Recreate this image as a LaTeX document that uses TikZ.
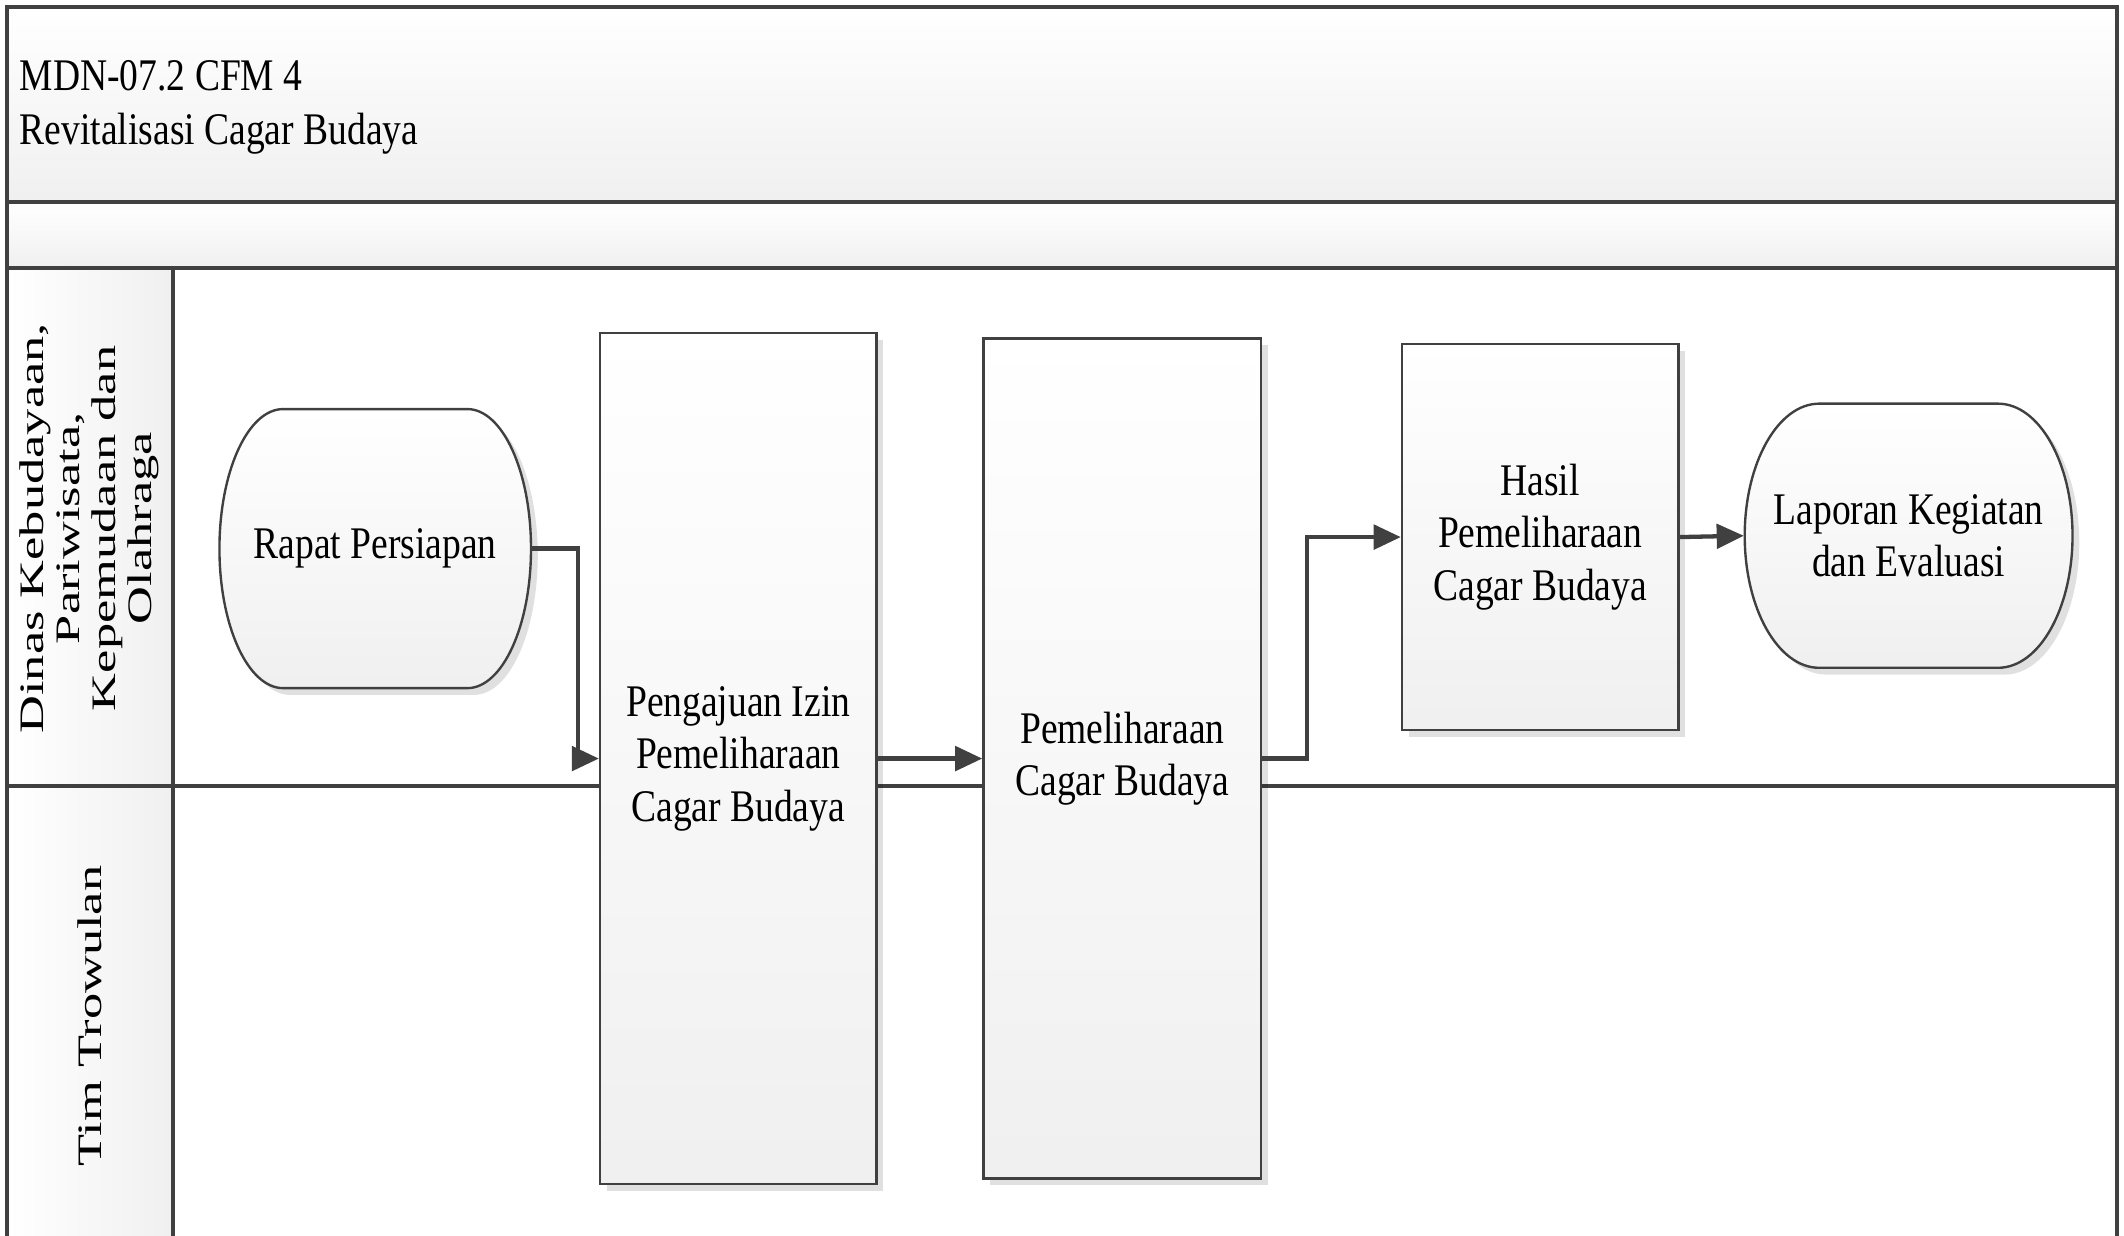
\documentclass[tikz,border=0pt]{standalone}
\usepackage{fontspec}
\setmainfont{Liberation Serif}
\newfontfamily\boxfont[FakeStretch=0.83]{Liberation Serif}
\newfontfamily\lanefont[FakeStretch=1.53]{Liberation Serif}
\usetikzlibrary{arrows.meta,shadows}
\definecolor{linegray}{HTML}{404040}

\newcommand{\lanetext}{\lanefont\fontsize{7.2}{7.6}\selectfont}

% terminal: name, x, y, half width, half height, corner, text
\newcommand{\terminal}[7]{%
  \path[termshape] ({#2-#4+#6},{#3-#5}) -- ({#2+#4-#6},{#3-#5})
    arc[start angle=-90, end angle=90, x radius=#6, y radius=#5]
    -- ({#2-#4+#6},{#3+#5})
    arc[start angle=90, end angle=270, x radius=#6, y radius=#5] -- cycle;
  \node[termtext, minimum width={2*#4*0.1mm}, minimum height={2*#5*0.1mm}] (#1) at (#2,#3) {#7};
}

\begin{document}
\begin{tikzpicture}[x=0.1mm, y=-0.1mm,
  frame/.style={draw=linegray, line width=0.8pt},
  band/.style={frame, top color=white, bottom color=black!6},
  lanecol/.style={frame, left color=white, right color=black!6},
  boxtext/.style={font=\boxfont\fontsize{9.5}{11}\selectfont, align=center, text=black},
  softshadow/.style={drop shadow={shadow xshift=0.5mm, shadow yshift=-0.5mm, fill=black, opacity=0.12}},
  process/.style={boxtext, draw=linegray, line width=0.5pt, top color=white, bottom color=black!6, softshadow, inner sep=0pt},
  termshape/.style={draw=linegray, line width=0.5pt, top color=white, bottom color=black!6, softshadow},
  termtext/.style={boxtext, inner sep=0pt},
  lanelabel/.style={font=\lanetext, align=center, rotate=90, text=black},
  flow/.style={draw=linegray, line width=0.9pt, -{Triangle[length=2mm, width=1.8mm]}}
]
\useasboundingbox (0,0) rectangle (1568,912);
\fill[white] (0,0) rectangle (1568,912);

% pool
\path[band] (5,5) rectangle (1563,149);
\path[band] (5,149) rectangle (1563,198);
\path[lanecol] (5,198) rectangle (128,930);
\draw[frame] (5,580) -- (1563,580);
\draw[frame] (1563,198) -- (1563,930);

\node[boxtext, font=\boxfont\fontsize{9.5}{11.4}\selectfont, anchor=west, align=left, inner sep=0pt] (title) at (14,79) {MDN-07.2 CFM 4\\Revitalisasi Cagar Budaya};

\node[lanelabel] (lanedinas) at (66,390) {Dinas Kebudayaan,\\Pariwisata,\\Kepemudaan dan\\Olahraga};
\node[lanelabel] (lanetim) at (66,750) {Tim Trowulan};

% steps
\terminal{rapat}{277}{405}{115}{103}{47}{Rapat Persiapan}
\node[process, minimum width=20.4mm, minimum height=62.8mm] (pengajuan) at (545,560) {Pengajuan Izin\\Pemeliharaan\\Cagar Budaya};
\node[process, minimum width=20.5mm, minimum height=62mm] (pemeliharaan) at (828.5,560) {Pemeliharaan\\Cagar Budaya};
\node[process, minimum width=20.4mm, minimum height=28.5mm] (hasil) at (1137,396.5) {Hasil\\Pemeliharaan\\Cagar Budaya};
\terminal{laporan}{1409}{395.5}{121}{97.5}{55}{Laporan Kegiatan\\dan Evaluasi}

\draw[flow] (rapat.east) -- ++(34,0) |- (pengajuan.west);
\draw[flow] (pengajuan.east) -- (pemeliharaan.west);
\draw[flow] (pemeliharaan.east) -- ++(33,0) |- (hasil.west);
\draw[flow] (hasil.east) -- (laporan.west);

\end{tikzpicture}
\end{document}
